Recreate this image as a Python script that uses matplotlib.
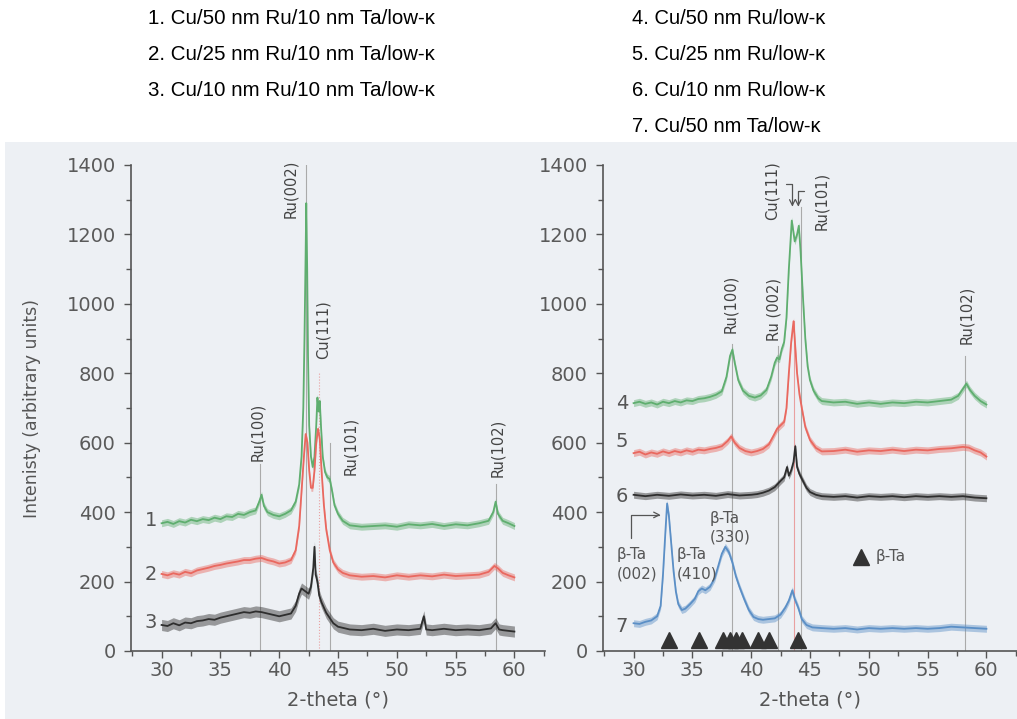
import matplotlib
matplotlib.use('Agg')
import matplotlib.pyplot as plt
from matplotlib.patches import Rectangle
import numpy as np

# header legend text
left_names = ['1. Cu/50 nm Ru/10 nm Ta/low-\u03ba',
              '2. Cu/25 nm Ru/10 nm Ta/low-\u03ba',
              '3. Cu/10 nm Ru/10 nm Ta/low-\u03ba']
right_names = ['4. Cu/50 nm Ru/low-\u03ba',
               '5. Cu/25 nm Ru/low-\u03ba',
               '6. Cu/10 nm Ru/low-\u03ba',
               '7. Cu/50 nm Ta/low-\u03ba']

# curve 1 (green, left)
x1 = [30, 30.5, 31, 31.5, 32, 32.5, 33, 33.5, 34, 34.5, 35, 35.5, 36, 36.5, 37, 37.5, 38.0, 38.3, 38.5, 38.7,
      39, 39.5, 40, 40.5, 41, 41.4, 41.7, 41.9, 42.05, 42.15, 42.25, 42.3, 42.38, 42.45, 42.55, 42.7, 42.85,
      43.0, 43.15, 43.25, 43.35, 43.45, 43.55, 43.7, 43.9, 44.1, 44.3, 44.5, 44.7, 45.0, 45.4, 46, 47, 48, 49,
      50, 51, 52, 53, 54, 55, 56, 57, 57.8, 58.2, 58.4, 58.6, 59, 59.5, 60]
y1 = [368, 372, 366, 374, 370, 378, 374, 380, 377, 384, 380, 388, 386, 395, 392, 400, 405, 430, 450, 418,
      400, 392, 388, 395, 405, 430, 480, 560, 700, 900, 1150, 1290, 1100, 850, 650, 560, 530,
      560, 650, 730, 690, 720, 650, 560, 515, 500, 495, 460, 420, 395, 375, 362, 358, 360, 362,
      358, 365, 362, 366, 360, 365, 362, 368, 375, 400, 430, 395, 375, 368, 360]

# curve 2 (red, left)
x2 = [30, 30.5, 31, 31.5, 32, 32.5, 33, 33.5, 34, 34.5, 35, 35.5, 36, 36.5, 37, 37.5, 38, 38.5, 39, 39.5,
      40, 40.5, 41, 41.4, 41.7, 41.9, 42.1, 42.25, 42.4, 42.55, 42.7, 42.85, 43.0, 43.15, 43.3, 43.45, 43.6,
      43.8, 44.0, 44.3, 44.6, 45.0, 45.4, 46, 47, 48, 49, 50, 51, 52, 53, 54, 55, 56, 57, 57.8, 58.3, 58.6,
      59, 59.5, 60]
y2 = [222, 218, 224, 220, 228, 224, 232, 236, 240, 245, 248, 252, 255, 258, 262, 262, 266, 268, 262, 258,
      252, 255, 262, 290, 360, 460, 560, 625, 600, 520, 470, 470, 520, 600, 640, 610, 520,
      420, 350, 290, 255, 235, 225, 218, 214, 216, 212, 218, 214, 218, 215, 220, 216, 218, 220, 228, 245, 238,
      225, 218, 212]

# curve 3 (black, left)
x3 = [30, 30.5, 31, 31.5, 32, 32.5, 33, 33.5, 34, 34.5, 35, 35.5, 36, 36.5, 37, 37.5, 38, 38.5, 39, 39.5,
      40, 40.5, 41, 41.4, 41.7, 41.9, 42.1, 42.3, 42.5, 42.7, 42.9, 43.0, 43.1, 43.25, 43.4, 43.6, 43.8,
      44.0, 44.3, 44.6, 45, 46, 47, 48, 49, 50, 51, 52, 52.3, 52.5, 53, 54, 55, 56, 57, 58, 58.4, 58.7, 59, 60]
y3 = [75, 72, 80, 74, 82, 80, 86, 88, 92, 90, 96, 100, 104, 108, 112, 110, 114, 112, 108, 104,
      100, 104, 108, 130, 165, 180, 175, 170, 165, 185, 240, 300, 220, 200, 160, 140, 125,
      110, 95, 80, 70, 62, 60, 64, 58, 62, 60, 64, 100, 62, 60, 64, 60, 62, 60, 65, 80, 62, 60, 56]

# curve 4 (green, right)
x4 = [30, 30.5, 31, 31.5, 32, 32.5, 33, 33.5, 34, 34.5, 35, 35.5, 36, 36.5, 37, 37.5, 37.9, 38.2, 38.4,
      38.6, 38.9, 39.3, 39.8, 40.3, 40.8, 41.3, 41.7, 42.0, 42.2, 42.4, 42.6, 42.8, 43.0, 43.2, 43.45, 43.7,
      43.9, 44.05, 44.2, 44.4, 44.6, 44.8, 45.0, 45.3, 45.7, 46, 47, 48, 49, 50, 51, 52, 53, 54, 55, 56, 57,
      57.6, 58.0, 58.3, 58.6, 59, 59.5, 60]
y4 = [714, 718, 712, 716, 710, 718, 714, 720, 716, 722, 720, 726, 728, 732, 738, 748, 790, 850, 868,
      830, 780, 750, 735, 730, 736, 752, 790, 830, 845, 840, 870, 890, 960, 1100, 1240, 1180,
      1200, 1225, 1150, 1020, 900, 820, 780, 750, 728, 720, 716, 718, 712, 716, 712, 716, 714, 718, 716, 720, 724,
      735, 755, 770, 752, 735, 720, 710]

# curve 5 (red, right)
x5 = [30, 30.5, 31, 31.5, 32, 32.5, 33, 33.5, 34, 34.5, 35, 35.5, 36, 36.5, 37, 37.5, 38.0, 38.3, 38.6,
      39, 39.5, 40, 40.5, 41, 41.5, 41.9, 42.2, 42.5, 42.8, 43.0, 43.2, 43.4, 43.6, 43.9, 44.1, 44.3, 44.6,
      45.0, 45.5, 46, 47, 48, 49, 50, 51, 52, 53, 54, 55, 56, 57, 58, 58.5, 59, 59.5, 60]
y5 = [570, 574, 566, 572, 568, 575, 570, 576, 572, 578, 574, 580, 578, 582, 585, 590, 605, 618, 600,
      585, 576, 572, 576, 582, 595, 620, 640, 650, 660, 700, 800, 890, 950, 800, 740, 700, 645,
      608, 585, 575, 576, 580, 574, 578, 576, 580, 576, 580, 578, 582, 584, 588, 586, 578, 572, 560]

# curve 6 (black, right)
x6 = [30, 31, 32, 33, 34, 35, 36, 37, 38, 39, 40, 40.5, 41, 41.5, 42, 42.5, 42.8, 43.05, 43.2, 43.4,
      43.6, 43.75, 43.9, 44.1, 44.4, 44.7, 45, 45.5, 46, 47, 48, 49, 50, 51, 52, 53, 54, 55, 56, 57, 58, 59, 60]
y6 = [450, 446, 450, 447, 451, 448, 450, 447, 452, 448, 450, 452, 456, 462, 472, 490, 500, 530, 505, 520,
      545, 590, 530, 510, 490, 470, 458, 450, 446, 444, 446, 442, 446, 444, 446, 443, 446, 444, 446, 444, 446, 442, 440]

# curve 7 (blue, right)
x7 = [30, 30.5, 31, 31.5, 32, 32.3, 32.5, 32.7, 32.85, 33.0, 33.2, 33.4, 33.6, 33.8, 34.1, 34.4, 34.8, 35.2,
      35.5, 35.8, 36.1, 36.5, 36.9, 37.2, 37.5, 37.8, 38.1, 38.4, 38.7, 39.0, 39.4, 39.8, 40.2, 40.6, 41, 41.5,
      42, 42.5, 42.9, 43.2, 43.5, 43.7, 44.0, 44.3, 44.7, 45.2, 46, 47, 48, 49, 50, 51, 52, 53, 54, 55, 56, 57,
      58, 59, 60]
y7 = [80, 78, 84, 88, 100, 130, 220, 340, 425, 390, 310, 230, 170, 135, 118, 122, 135, 150,
      172, 180, 175, 185, 210, 245, 280, 300, 285, 255, 215, 185, 150, 118, 98, 92, 90, 92,
      94, 105, 125, 145, 175, 150, 125, 92, 75, 68, 66, 64, 66, 62, 66, 64, 66, 64, 66, 64, 66, 70,
      68, 66, 64]

# peak labels
left_peaks = ['Ru(100)', 'Ru(002)', 'Cu(111)', 'Ru(101)', 'Ru(102)']
left_peak_x = [38.4, 42.3, 43.4, 44.3, 58.4]
left_line_top = [540, 1420, 800, 600, 480]
left_label_xy = [(38.2, 630), (41.0, 1330), (43.75, 925), (46.1, 590), (58.6, 585)]

right_peaks = ['Ru(100)', 'Ru (002)', 'Cu(111)', 'Ru(101)', 'Ru(102)']
right_peak_x = [38.4, 42.3, 43.6, 44.2, 58.2]
right_line_top = [885, 880, 950, 1280, 850]
right_label_xy = [(38.25, 1000), (41.9, 985), (41.8, 1326), (46.0, 1297), (58.35, 968)]

# beta-Ta triangle markers
ta_x = [33.0, 35.55, 37.6, 38.2, 38.7, 39.2, 40.6, 41.5, 44.0]

green, red, black, blue = '#5fae6f', '#e9685f', '#2e2e2e', '#5b8fc6'
tick_col = '#5a5a5a'

fig = plt.figure(figsize=(10.17, 7.19), dpi=100)
fig.patch.set_facecolor('white')
fig.patches.append(Rectangle((0.005, 0), 0.995, 1 - 142 / 719, transform=fig.transFigure,
                             facecolor='#edf0f4', edgecolor='none', zorder=-10))

for i, s in enumerate(left_names):
    fig.text(148 / 1017, 1 - (18 + i * 36) / 719, s, fontsize=14.8, family='Liberation Sans', va='center')
for i, s in enumerate(right_names):
    fig.text(632 / 1017, 1 - (18 + i * 36.3) / 719, s, fontsize=14.5, family='Liberation Sans', va='center')

ax1 = fig.add_axes([131 / 1017, 1 - 651 / 719, 414 / 1017, 486 / 719])
ax2 = fig.add_axes([603 / 1017, 1 - 651 / 719, 414 / 1017, 486 / 719])


def style_axis(ax):
    ax.set_facecolor('none')
    ax.set_xlim(27.4, 62.6)
    ax.set_ylim(0, 1400)
    ax.spines['top'].set_visible(False)
    ax.spines['right'].set_visible(False)
    for sp in ['left', 'bottom']:
        ax.spines[sp].set_color('#555555')
        ax.spines[sp].set_linewidth(1.2)
    ax.set_xticks([30, 35, 40, 45, 50, 55, 60])
    ax.set_xticks(np.arange(27.5, 62.6, 2.5), minor=True)
    ax.set_yticks(range(0, 1401, 200))
    ax.set_yticks(range(0, 1401, 100), minor=True)
    ax.tick_params(which='major', direction='out', length=5, width=1, color='#555555',
                   labelcolor=tick_col, labelsize=14)
    ax.tick_params(which='minor', direction='out', length=3.5, width=1, color='#555555')
    ax.tick_params(axis='x', pad=2)
    ax.tick_params(axis='y', pad=6)
    ax.set_xlabel('2-theta (\u00b0)', fontsize=14, color='#555555', labelpad=8)


def draw_curve(ax, x, y, col, w):
    # noisy trace: light band plus centre line
    x = np.array(x)
    y = np.array(y)
    ax.fill_between(x, y - w, y + w, color=col, alpha=0.45, lw=0)
    ax.plot(x, y, color=col, lw=1.3)


style_axis(ax1)
style_axis(ax2)
ax1.set_ylabel('Intenisty (arbitrary units)', fontsize=12.5, color='#555555', labelpad=18)

# left panel
for px, top in zip(left_peak_x, left_line_top):
    c = '#e9a0a0' if px == 43.4 else '#aaaaaa'
    ls = ':' if px == 43.4 else '-'
    ax1.plot([px, px], [0, top], color=c, lw=0.8, ls=ls, zorder=1)
draw_curve(ax1, x1, y1, green, 10)
draw_curve(ax1, x2, y2, red, 10)
draw_curve(ax1, x3, y3, black, 16)
for name, (lx, ly) in zip(left_peaks, left_label_xy):
    ax1.text(lx, ly, name, rotation=90, fontsize=10.5, color='#444444', ha='center', va='center')
for n, yy in zip(['1', '2', '3'], [377, 219, 81]):
    ax1.text(29.1, yy, n, fontsize=14, color='#555555', ha='center', va='center')

# right panel
for px, top in zip(right_peak_x, right_line_top):
    c = '#e9a0a0' if px == 43.6 else '#aaaaaa'
    ax2.plot([px, px], [0, top], color=c, lw=0.8, zorder=1)
draw_curve(ax2, x4, y4, green, 10)
draw_curve(ax2, x5, y5, red, 10)
draw_curve(ax2, x6, y6, black, 10)
draw_curve(ax2, x7, y7, blue, 10)
for name, (lx, ly) in zip(right_peaks, right_label_xy):
    ax2.text(lx, ly, name, rotation=90, fontsize=10.5, color='#444444', ha='center', va='center')
for n, yy in zip(['4', '5', '6', '7'], [714, 603, 445, 70]):
    ax2.text(29.0, yy, n, fontsize=14, color='#555555', ha='center', va='center')

arrow_kw = dict(arrowstyle='->', color='#555555', lw=0.9, shrinkA=0, shrinkB=0,
                connectionstyle='angle,angleA=0,angleB=90,rad=0')
ax2.annotate('', xy=(43.5, 1280), xytext=(43.0, 1346), arrowprops=arrow_kw)
ax2.annotate('', xy=(44.0, 1280), xytext=(44.45, 1324), arrowprops=arrow_kw)
ax2.annotate('', xy=(32.3, 392), xytext=(29.75, 325),
             arrowprops=dict(arrowstyle='->', color='#555555', lw=0.9, shrinkA=0, shrinkB=0,
                             connectionstyle='angle,angleA=90,angleB=0,rad=0'))

ax2.text(28.6, 250, '\u03b2-Ta\n(002)', fontsize=11, color='#555555', va='center', ha='left', linespacing=1.3)
ax2.text(33.7, 250, '\u03b2-Ta\n(410)', fontsize=11, color='#555555', va='center', ha='left', linespacing=1.3)
ax2.text(36.5, 356, '\u03b2-Ta\n(330)', fontsize=11, color='#555555', va='center', ha='left', linespacing=1.3)

ax2.plot(ta_x, [32] * len(ta_x), ls='none', marker='^', ms=11, color='#333333')
ax2.plot([49.3], [272], ls='none', marker='^', ms=11, color='#333333')
ax2.text(50.6, 272, '\u03b2-Ta', fontsize=11, color='#555555', va='center', ha='left')

fig.savefig('out.png', dpi=100)
